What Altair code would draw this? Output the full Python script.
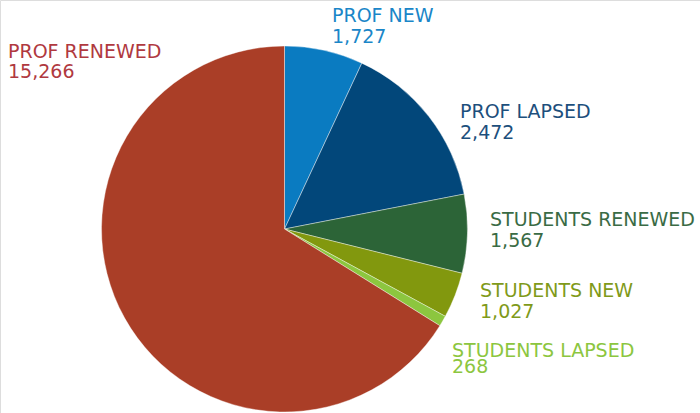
import altair as alt
import pandas as pd

categories = ["PROF NEW", "PROF LAPSED", "STUDENTS RENEWED", "STUDENTS NEW", "STUDENTS LAPSED", "PROF RENEWED"]
# numbers printed in the labels
values = [1727, 2472, 1567, 1027, 268, 15266]
# slice sizes as drawn in the reference (degrees of the circle)
slice_degrees = [25.0, 54.0, 25.0, 14.5, 3.4, 238.1]
slice_colors = ["#0a7bc1", "#02477a", "#2c6437", "#82980e", "#8cc63f", "#aa3e27"]
text_colors = ["#1a86c8", "#1d4f7c", "#3a6b45", "#7f9a1a", "#8cc63f", "#b0393f"]

df = pd.DataFrame({
    "cat": categories, "val": values, "deg": slice_degrees,
    "order": list(range(len(categories))),
})

W, H = 700, 413
CX, CY, R = 284.5, 229, 183

pie = alt.Chart(df).mark_arc(stroke="white", strokeWidth=0.4, radius=R).encode(
    theta=alt.Theta("deg:Q", stack=True),
    order=alt.Order("order:Q"),
    color=alt.Color("cat:N", scale=alt.Scale(domain=categories, range=slice_colors), legend=None),
    x=alt.value(CX),
    y=alt.value(CY),
)

# label anchor (left x, first-line baseline, line height) per category
label_pos = {
    "PROF NEW": (332, 22, 21),
    "PROF LAPSED": (460, 118, 21),
    "STUDENTS RENEWED": (490, 226, 21),
    "STUDENTS NEW": (480, 297, 21),
    "STUDENTS LAPSED": (452, 357, 16),
    "PROF RENEWED": (8, 58, 20),
}

layers = [pie]
for cat, tcol in zip(categories, text_colors):
    x, y, lh = label_pos[cat]
    base = alt.Chart(df).transform_filter(alt.datum.cat == cat).transform_calculate(
        lbl="datum.cat + '\\n' + format(datum.val, ',')"
    )
    layers.append(
        base.mark_text(
            align="left", baseline="alphabetic", font="DejaVu Sans", fontSize=19,
            color=tcol, lineBreak="\n", lineHeight=lh,
        ).encode(text="lbl:N", x=alt.value(x), y=alt.value(y))
    )

chart = alt.layer(*layers).properties(
    width=W, height=H, autosize=alt.AutoSizeParams(type="none"), padding=0,
).configure_view(stroke=None).configure(background="white")

chart.save("out.html", embed_options={"renderer": "svg", "actions": False})
